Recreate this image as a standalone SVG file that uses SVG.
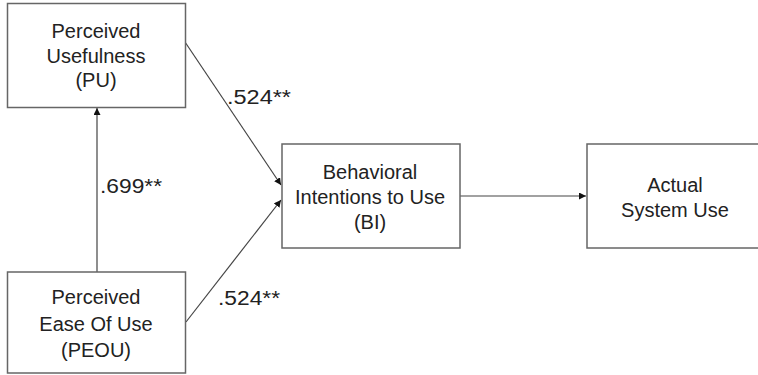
<svg xmlns="http://www.w3.org/2000/svg" width="758" height="375" viewBox="0 0 758 375">
<style>
.box{fill:#fff;stroke:#666;stroke-width:1.5}
.t{font-family:"Liberation Sans",Arial,sans-serif;font-size:20px;fill:#222;text-anchor:middle}
.lbl{font-family:"Liberation Sans",Arial,sans-serif;font-size:20px;fill:#222}
.c{stroke:#444;stroke-width:1.2;fill:none;marker-end:url(#ah)}
</style>
<defs>
<marker id="ah" viewBox="0 0 10 10" refX="10" refY="5" markerWidth="7" markerHeight="7" markerUnits="userSpaceOnUse" orient="auto">
<path d="M0,0 L10,5 L0,10 z" fill="#111"/>
</marker>
</defs>
<g id="connectors">
<line class="c" x1="97" y1="272" x2="97" y2="108"/>
<line class="c" x1="185" y1="42" x2="281" y2="185"/>
<line class="c" x1="186" y1="322" x2="281" y2="200"/>
<line class="c" x1="460" y1="196" x2="586" y2="196"/>
<text class="lbl" x="227" y="104" textLength="64" lengthAdjust="spacingAndGlyphs">.524**</text>
<text class="lbl" x="100" y="193" textLength="62" lengthAdjust="spacingAndGlyphs">.699**</text>
<text class="lbl" x="218" y="305" textLength="62" lengthAdjust="spacingAndGlyphs">.524**</text>
</g>
<g id="pu">
<rect class="box" x="7.5" y="3.5" width="178" height="104"/>
<text class="t" x="96" y="38">Perceived</text>
<text class="t" x="96" y="63">Usefulness</text>
<text class="t" x="96" y="87">(PU)</text>
</g>
<g id="peou">
<rect class="box" x="7.5" y="272" width="178" height="101"/>
<text class="t" x="96" y="304">Perceived</text>
<text class="t" x="96" y="331">Ease Of Use</text>
<text class="t" x="96" y="357">(PEOU)</text>
</g>
<g id="bi">
<rect class="box" x="282" y="144" width="178" height="104"/>
<text class="t" x="370" y="179">Behavioral</text>
<text class="t" x="370" y="204">Intentions to Use</text>
<text class="t" x="370" y="229">(BI)</text>
</g>
<g id="asu">
<rect class="box" x="587" y="144" width="220" height="104"/>
<text class="t" x="675" y="192">Actual</text>
<text class="t" x="675" y="217">System Use</text>
</g>
</svg>
